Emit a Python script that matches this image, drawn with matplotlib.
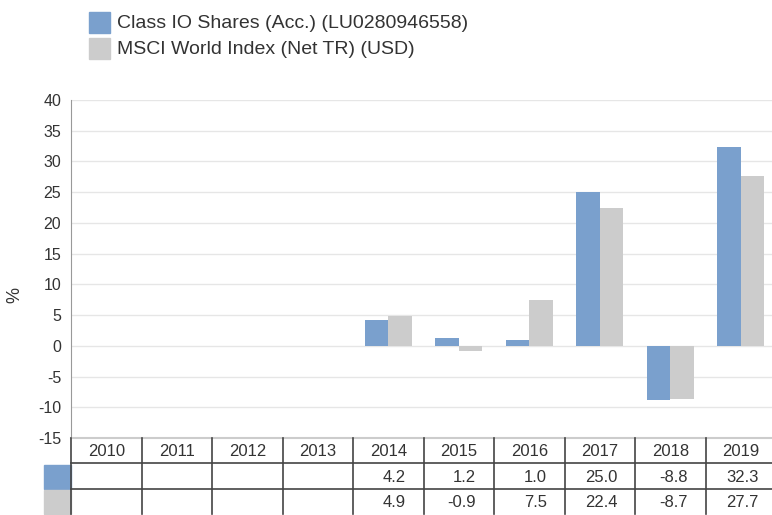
import matplotlib
matplotlib.use('Agg')
import matplotlib.pyplot as plt
import matplotlib.patches as mpatches

plt.rcParams['font.family'] = ['Liberation Sans', 'DejaVu Sans']
plt.rcParams['axes.unicode_minus'] = False

years = ['2010', '2011', '2012', '2013', '2014', '2015', '2016', '2017', '2018', '2019']
fund = [None, None, None, None, 4.2, 1.2, 1.0, 25.0, -8.8, 32.3]
index = [None, None, None, None, 4.9, -0.9, 7.5, 22.4, -8.7, 27.7]
series_names = ['Class IO Shares (Acc.) (LU0280946558)', 'MSCI World Index (Net TR) (USD)']
colors = ['#7aa0cd', '#cccccc']
text_col = '#333333'

W, H = 772, 515
fig = plt.figure(figsize=(W / 100, H / 100), dpi=100)

def fx(px):
    return px / W

def fy(py):
    return 1 - py / H

# main chart
ax = fig.add_axes([fx(71), fy(438), fx(776) - fx(71), fy(100) - fy(438)])
ax.set_xlim(-0.5, len(years) - 0.5)
ax.set_ylim(-15, 40)
ax.set_yticks(range(-15, 41, 5))
ax.set_xticks([])
ax.tick_params(axis='y', length=0, pad=7, labelsize=11.5, labelcolor=text_col)
ax.grid(axis='y', color='#e6e6e6', linewidth=1)
ax.set_axisbelow(True)
for s in ['top', 'right']:
    ax.spines[s].set_visible(False)
ax.spines['left'].set_color('#999999')
ax.spines['bottom'].set_color('#cccccc')
ax.spines['bottom'].set_linewidth(1.5)

bw = 0.33
for i, (a, b) in enumerate(zip(fund, index)):
    if a is not None:
        ax.bar(i - bw / 2, a, width=bw, color=colors[0])
    if b is not None:
        ax.bar(i + bw / 2, b, width=bw, color=colors[1])

fig.text(fx(15), fy(295), '%', rotation=90, ha='center', va='center', fontsize=13, color=text_col)

# table below
tx = fig.add_axes([fx(71), fy(514), fx(776) - fx(71), fy(438) - fy(514)])
tx.set_xlim(-0.5, len(years) - 0.5)
tx.set_ylim(0, 3)
tx.axis('off')
line_c = '#444444'
for i in range(len(years) + 1):
    tx.plot([i - 0.5, i - 0.5], [0, 3], color=line_c, lw=1.2, clip_on=False)
for yv in [1, 2]:
    tx.plot([-0.5, len(years) - 0.5], [yv, yv], color=line_c, lw=1.2, clip_on=False)
sw = 27 / 70.5
tx.add_patch(mpatches.Rectangle((-0.5 - sw, 1.0), sw, 0.95, color=colors[0], clip_on=False))
tx.add_patch(mpatches.Rectangle((-0.5 - sw, 0.0), sw, 0.95, color=colors[1], clip_on=False))
for i, y in enumerate(years):
    tx.text(i, 2.45, y, ha='center', va='center', fontsize=12, color=text_col)
    if fund[i] is not None:
        tx.text(i + 0.25, 1.45, f'{fund[i]:.1f}', ha='right', va='center', fontsize=12, color=text_col)
    if index[i] is not None:
        tx.text(i + 0.25, 0.45, f'{index[i]:.1f}', ha='right', va='center', fontsize=12, color=text_col)

# legend
for k, (name, c) in enumerate(zip(series_names, colors)):
    top = 12 + k * 26
    fig.patches.append(mpatches.Rectangle((fx(89), fy(top + 21)), fx(21), fy(top) - fy(top + 21),
                                          color=c, transform=fig.transFigure, figure=fig))
    fig.text(fx(117), fy(top + 11), name, ha='left', va='center', fontsize=14, color=text_col)

fig.savefig('out.png', dpi=100)
